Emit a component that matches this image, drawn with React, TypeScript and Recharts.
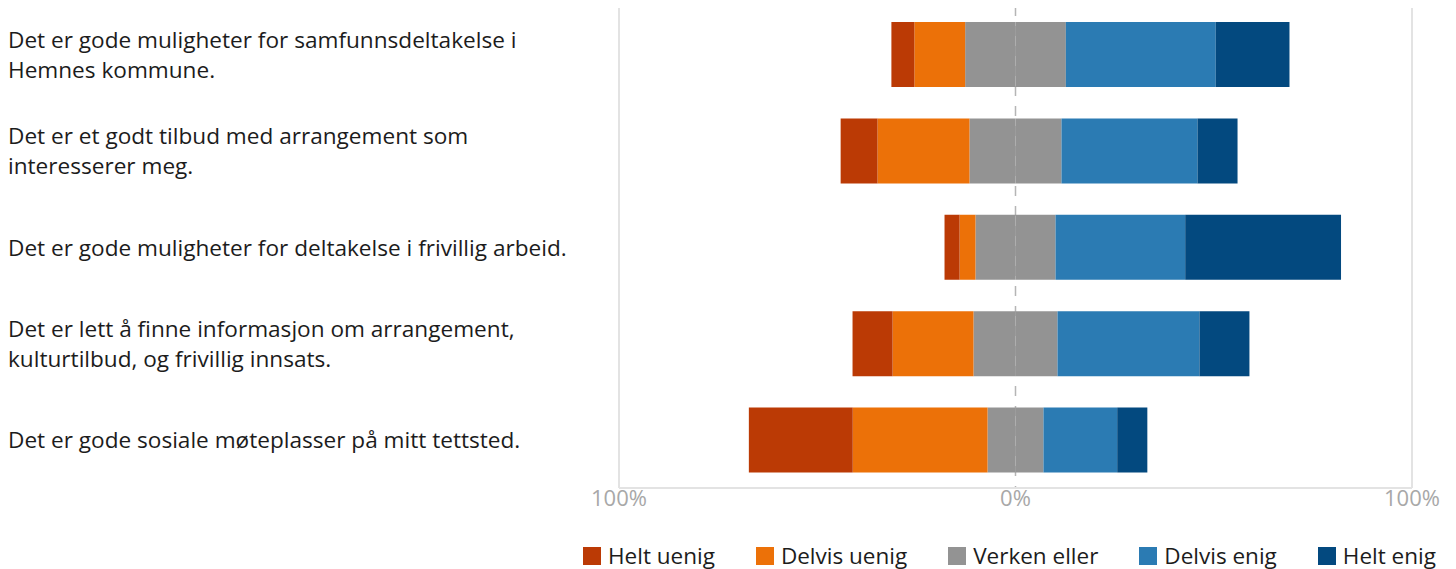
import React from "react";
import { BarChart, Bar, XAxis, YAxis, CartesianGrid } from "recharts";

const categories = [
  "Det er gode muligheter for samfunnsdeltakelse i\nHemnes kommune.",
  "Det er et godt tilbud med arrangement som\ninteresserer meg.",
  "Det er gode muligheter for deltakelse i frivillig arbeid.",
  "Det er lett å finne informasjon om arrangement,\nkulturtilbud, og frivillig innsats.",
  "Det er gode sosiale møteplasser på mitt tettsted.",
];

const heltUenig = [5.8, 9.3, 3.8, 10.1, 26.2];
const delvisUenig = [12.8, 23.2, 4.0, 20.4, 34.0];
const verkenEller = [25.4, 23.2, 20.2, 21.2, 14.1];
const delvisEnig = [37.8, 34.3, 32.7, 35.8, 18.6];
const heltEnig = [18.6, 10.1, 39.3, 12.6, 7.6];

const seriesNames = ["Helt uenig", "Delvis uenig", "Verken eller", "Delvis enig", "Helt enig"];
const seriesColors = ["#BB3A05", "#EC7108", "#939393", "#2B7BB3", "#03497F"];

const xTicks = [-100, 0, 100];
const xDomain: [number, number] = [-100, 100];

const data = categories.map((name, i) => ({
  name,
  heltUenig: -heltUenig[i],
  delvisUenig: -delvisUenig[i],
  verkenNeg: -verkenEller[i] / 2,
  verkenPos: verkenEller[i] / 2,
  delvisEnig: delvisEnig[i],
  heltEnig: heltEnig[i],
}));

const FONT = '"Open Sans", "Noto Sans", sans-serif';

const CategoryTick = (props: any) => {
  const { y, payload } = props;
  const lines = String(payload.value).split("\n");
  const lh = 30;
  return (
    <text x={0} y={y} textAnchor="start" fill="#1c1c1c" fontSize={22.6} fontFamily={FONT}>
      {lines.map((l, i) => (
        <tspan key={i} x={0} y={y + (i - (lines.length - 1) / 2) * lh + 8.5}>
          {l}
        </tspan>
      ))}
    </text>
  );
};

const ValueTick = (props: any) => {
  const { x, y, payload } = props;
  return (
    <text x={x} y={y + 18} textAnchor="middle" fill="#a8a8a8" fontSize={22} fontFamily={FONT}>
      {Math.abs(payload.value) + "%"}
    </text>
  );
};

const gridAt = (values: number[]) => (args: any) => {
  const xa = args && args.xAxis;
  if (xa && typeof xa.scale === "function") {
    return values.map((v) => xa.scale(v));
  }
  const off = args.offset;
  return values.map((v) => off.left + (off.width * (v - xDomain[0])) / (xDomain[1] - xDomain[0]));
};

export default function App() {
  return (
    <div style={{ position: "relative", width: 1440, height: 563, marginTop: -2, fontFamily: FONT }}>
      <BarChart
        width={1440}
        height={512}
        data={data}
        layout="vertical"
        stackOffset="sign"
        barSize={65}
        margin={{ top: 0, right: 36, left: 0, bottom: 0 }}
      >
        <CartesianGrid
          horizontal={false}
          vertical
          stroke="#e3e3e3"
          strokeWidth={2}
          verticalCoordinatesGenerator={gridAt([-100, 100])}
        />
        <CartesianGrid
          horizontal={false}
          vertical
          stroke="#b5b5b5"
          strokeWidth={1.5}
          strokeDasharray="10 10"
          verticalCoordinatesGenerator={gridAt([0])}
        />
        <XAxis
          type="number"
          domain={xDomain}
          ticks={xTicks}
          height={30}
          tickLine={false}
          tickSize={0}
          tickMargin={0}
          axisLine={{ stroke: "#e3e3e3", strokeWidth: 2 }}
          tick={<ValueTick />}
          interval={0}
        />
        <YAxis
          type="category"
          dataKey="name"
          width={611}
          axisLine={false}
          tickLine={false}
          tick={<CategoryTick />}
          interval={0}
        />
        <Bar dataKey="verkenNeg" stackId="a" fill={seriesColors[2]} isAnimationActive={false} />
        <Bar dataKey="verkenPos" stackId="a" fill={seriesColors[2]} isAnimationActive={false} />
        <Bar dataKey="delvisUenig" stackId="a" fill={seriesColors[1]} isAnimationActive={false} />
        <Bar dataKey="delvisEnig" stackId="a" fill={seriesColors[3]} isAnimationActive={false} />
        <Bar dataKey="heltUenig" stackId="a" fill={seriesColors[0]} isAnimationActive={false} />
        <Bar dataKey="heltEnig" stackId="a" fill={seriesColors[4]} isAnimationActive={false} />
      </BarChart>
      <div
        style={{
          position: "absolute",
          top: 536,
          left: 575,
          display: "flex",
          alignItems: "center",
          gap: 41,
          fontSize: 22.5,
          color: "#1c1c1c",
          lineHeight: "28px",
          whiteSpace: "nowrap",
        }}
      >
        {seriesNames.map((n, i) => (
          <div key={n} style={{ display: "flex", alignItems: "center" }}>
            <span style={{ display: "inline-block", width: 18, height: 18, background: seriesColors[i], marginRight: 7 }} />
            <span>{n}</span>
          </div>
        ))}
      </div>
    </div>
  );
}
